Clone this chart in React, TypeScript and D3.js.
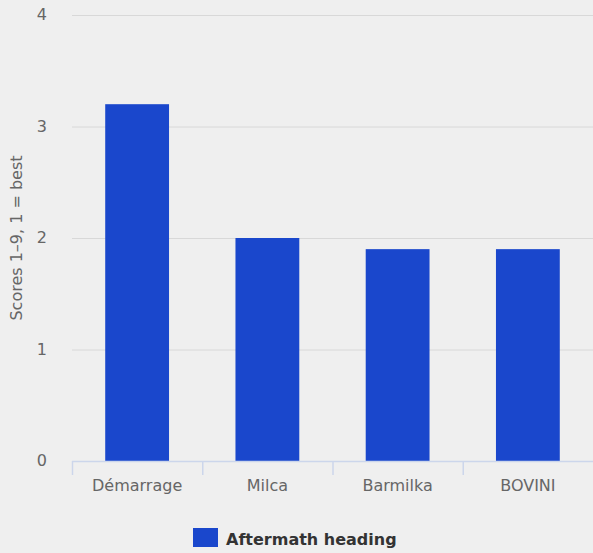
import React from "react";
import * as d3 from "d3";

const categories = ["Démarrage", "Milca", "Barmilka", "BOVINI"];
const values = [3.2, 2.0, 1.9, 1.9];
const yTicks = [0, 1, 2, 3, 4];
const seriesName = "Aftermath heading";
const yTitle = "Scores 1–9, 1 = best";

const W = 593;
const H = 553;
const FONT = "'DejaVu Sans', 'Lucida Grande', sans-serif";

export default function App() {
  const left = 72;
  const right = 593;
  const top = 15;
  const bottom = 461;
  const x = d3.scaleBand<string>().domain(categories).range([left, right]).paddingInner(0).paddingOuter(0);
  const y = d3.scaleLinear().domain([0, 4]).range([bottom, top]);
  const barW = x.bandwidth() * 0.49;
  const color = "#1a47cc";

  return (
    <svg width={W} height={H} style={{ position: "absolute", left: 0, top: 0, background: "#efefef" }}>
      <rect x={0} y={0} width={W} height={H} fill="#efefef" />
      {yTicks.map((t) => (
        <g key={t}>
          {t > 0 && <line x1={left} x2={right} y1={y(t) + 0.5} y2={y(t) + 0.5} stroke="#d8d8d8" strokeWidth={1} />}
          <text x={47} y={y(t) + 5} textAnchor="end" fontFamily={FONT} fontSize={16} fill="#666">
            {t}
          </text>
        </g>
      ))}
      <text
        transform={`translate(22,${(top + bottom) / 2}) rotate(-90)`}
        textAnchor="middle"
        fontFamily={FONT}
        fontSize={16}
        fill="#666"
      >
        {yTitle}
      </text>
      {categories.map((c, i) => (
        <rect
          key={c}
          x={(x(c) as number) + (x.bandwidth() - barW) / 2}
          y={y(values[i])}
          width={barW}
          height={y(0) - y(values[i])}
          fill={color}
        />
      ))}
      <line x1={left} x2={right} y1={bottom + 0.5} y2={bottom + 0.5} stroke="#ccd6eb" strokeWidth={1.5} />
      {categories.map((c) => (
        <line
          key={"t" + c}
          x1={(x(c) as number) + 0.5}
          x2={(x(c) as number) + 0.5}
          y1={bottom}
          y2={bottom + 14}
          stroke="#ccd6eb"
          strokeWidth={1.5}
        />
      ))}
      {categories.map((c) => (
        <text
          key={"l" + c}
          x={(x(c) as number) + x.bandwidth() / 2}
          y={bottom + 30}
          textAnchor="middle"
          fontFamily={FONT}
          fontSize={16}
          fill="#666"
        >
          {c}
        </text>
      ))}
      <rect x={193} y={528} width={25} height={19} fill={color} />
      <text x={226} y={545} fontFamily={FONT} fontSize={16} fontWeight="bold" fill="#333">
        {seriesName}
      </text>
    </svg>
  );
}
